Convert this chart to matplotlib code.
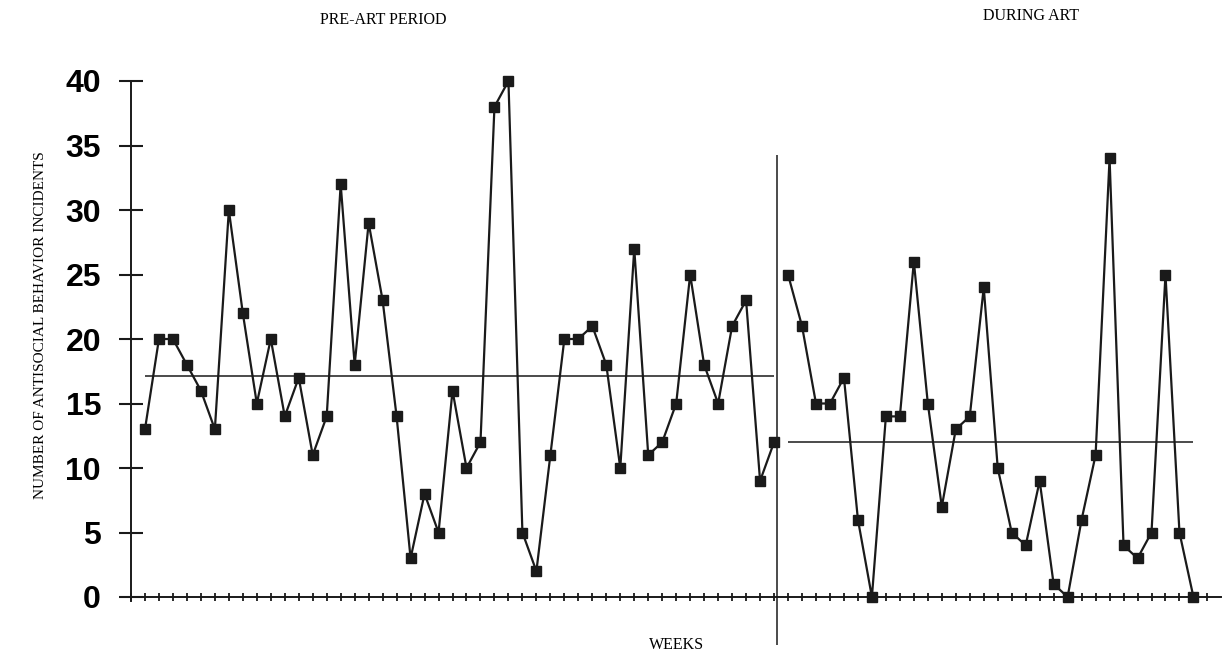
import matplotlib.pyplot as plt
import numpy as np

# weekly counts
pre_art = [13, 20, 20, 18, 16, 13, 30, 22, 15, 20, 14, 17, 11, 14, 32, 18, 29, 23,
           14, 3, 8, 5, 16, 10, 12, 38, 40, 5, 2, 11, 20, 20, 21, 18, 10, 27, 11,
           12, 15, 25, 18, 15, 21, 23, 9, 12]
during_art = [25, 21, 15, 15, 17, 6, 0, 14, 14, 26, 15, 7, 13, 14, 24, 10, 5, 4,
              9, 1, 0, 6, 11, 34, 4, 3, 5, 25, 5, 0]
phase_levels = [17.1, 12.0]   # horizontal reference lines
phase_break = 46.2
y_ticks = [0, 5, 10, 15, 20, 25, 30, 35, 40]

W, H = 1222, 657
fig = plt.figure(figsize=(W / 100, H / 100), dpi=100)
ax = fig.add_axes([119.8 / W, 1 - 648.6 / H, (1221.4 - 119.8) / W, (648.6 - 81) / H])

x_pre = np.arange(1, len(pre_art) + 1)
x_dur = np.arange(len(pre_art) + 1, len(pre_art) + len(during_art) + 1)
ink = '#1a1a1a'

ax.plot(x_pre, pre_art, color=ink, lw=1.6, marker='s', ms=7.5, clip_on=False)
ax.plot(x_dur, during_art, color=ink, lw=1.6, marker='s', ms=7.5, clip_on=False)

# phase level lines and the phase change line
ax.hlines(phase_levels[0], x_pre[0], x_pre[-1], color=ink, lw=1.1)
ax.hlines(phase_levels[1], x_dur[0], x_dur[-1], color=ink, lw=1.1)
ax.vlines(phase_break, -3.7, 34.3, color=ink, lw=1.1, clip_on=False)

ax.set_xlim(-0.8, 78)
ax.set_ylim(-4, 40)

for s in ['top', 'right']:
    ax.spines[s].set_visible(False)
ax.spines['left'].set_position(('data', 0))
ax.spines['left'].set_bounds(-0.3, 40)
ax.spines['bottom'].set_position(('data', 0))
ax.spines['left'].set_linewidth(1.4)
ax.spines['bottom'].set_linewidth(1.4)
ax.spines['left'].set_color(ink)
ax.spines['bottom'].set_color(ink)

ax.set_yticks(y_ticks)
ax.set_yticklabels([str(t) for t in y_ticks], fontsize=23, fontweight='bold',
                   family='Liberation Sans')
ax.tick_params(axis='y', direction='inout', length=17, width=1.5, pad=13, color=ink)
ax.set_xticks(np.arange(0, 78))
ax.tick_params(axis='x', direction='inout', length=6, width=1.3, labelbottom=False, color=ink)

fig.text(383 / W, 1 - 20 / H, 'PRE-ART PERIOD', ha='center', va='center',
         family='Liberation Serif', fontsize=11.5)
fig.text(1031 / W, 1 - 16 / H, 'DURING ART', ha='center', va='center',
         family='Liberation Serif', fontsize=11.5)
fig.text(677 / W, 1 - 645 / H, 'WEEKS', ha='center', va='center',
         family='Liberation Serif', fontsize=11.5)
fig.text(41 / W, 1 - 325 / H, 'NUMBER OF ANTISOCIAL BEHAVIOR INCIDENTS', rotation=90,
         ha='center', va='center', family='Liberation Serif', fontsize=11)

fig.savefig('out.png', dpi=100)
